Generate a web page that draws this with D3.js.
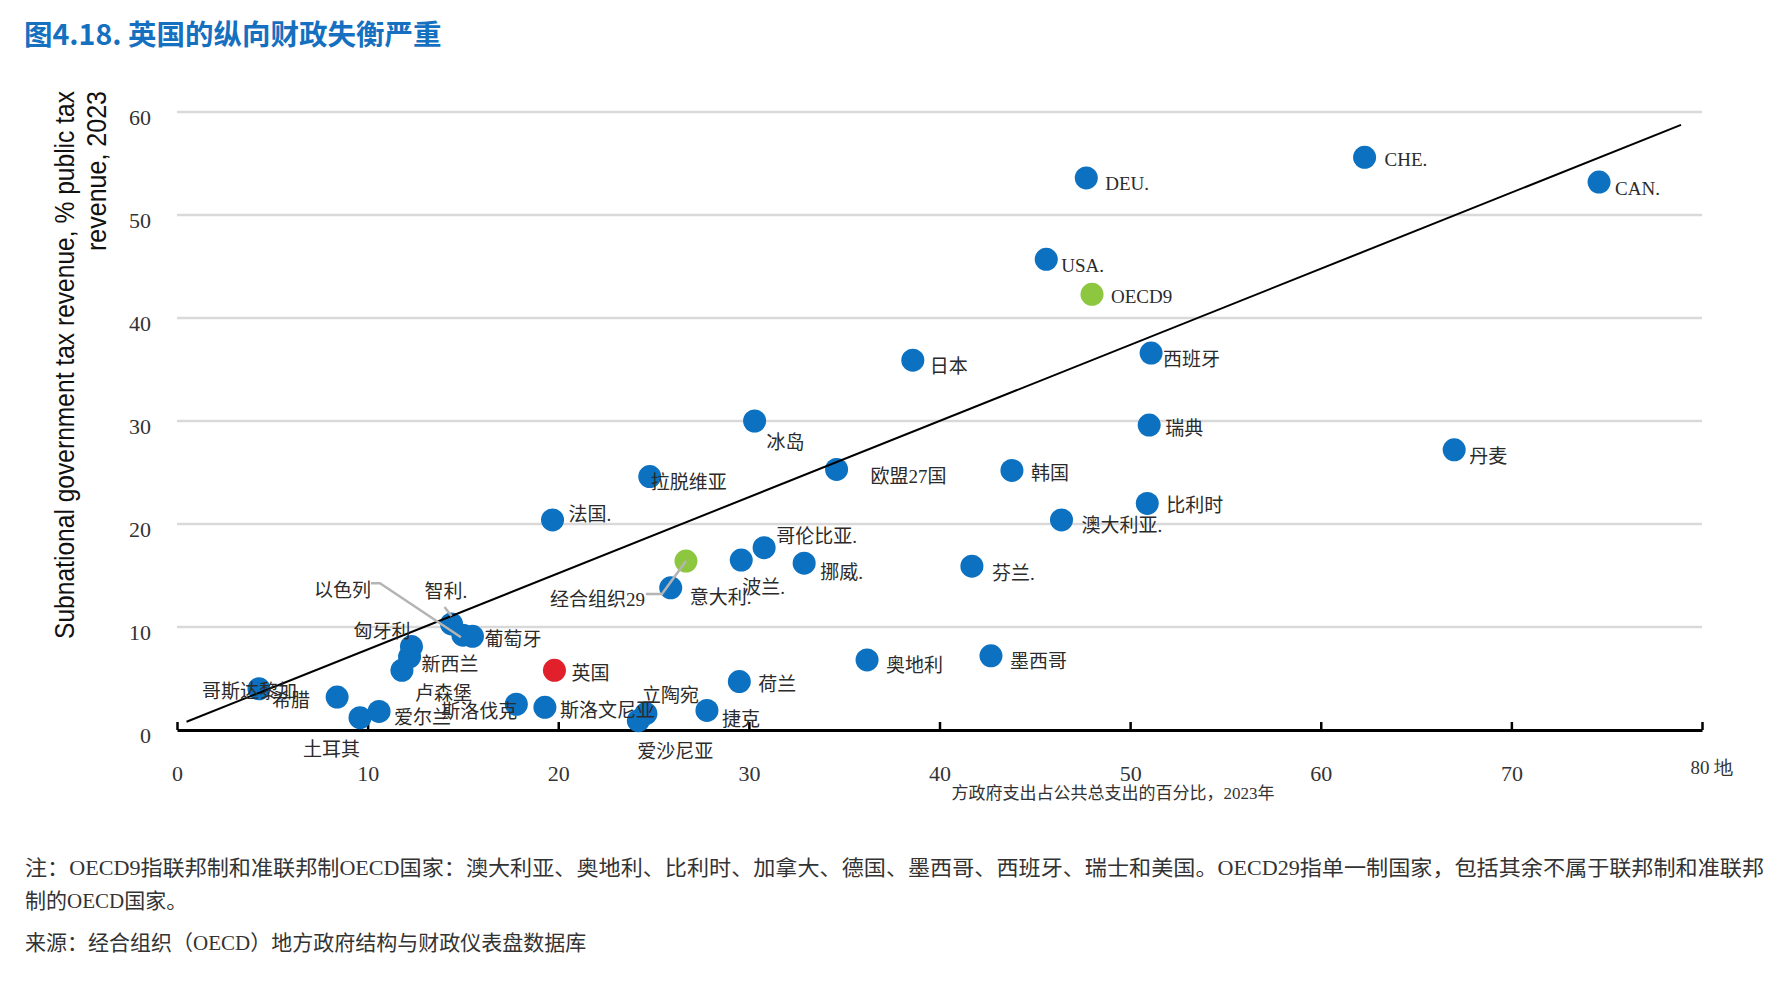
<!DOCTYPE html>
<html>
<head>
<meta charset="utf-8">
<script src="https://cdn.jsdelivr.net/npm/d3@7"></script>
<style>
    body { margin: 0; background: #fff; }
    text { fill: #333; }
</style>
</head>
<body>
<div id="chart"></div>
<script>

// країни / групи
var names = ["CHE.", "CAN.", "DEU.", "USA.", "OECD9", "日本", "西班牙", "瑞典", "丹麦", "冰岛",
    "拉脱维亚", "欧盟27国", "韩国", "比利时", "澳大利亚.", "法国.", "哥伦比亚.", "挪威.", "芬兰.", "波兰.",
    "经合组织29", "意大利.", "智利.", "以色列", "葡萄牙", "匈牙利", "新西兰", "卢森堡", "英国", "哥斯达黎加",
    "希腊", "土耳其", "爱尔兰", "斯洛伐克", "斯洛文尼亚", "立陶宛", "爱沙尼亚", "捷克", "荷兰", "奥地利", "墨西哥"];

// x: subnational spending, % of total public spending
var spendShare = [62.3, 74.6, 47.7, 45.6, 48.0, 38.6, 51.1, 51.0, 67.0, 30.3,
    24.8, 34.6, 43.8, 50.9, 46.4, 19.7, 30.8, 32.9, 41.7, 29.6,
    26.7, 25.9, 14.4, 15.0, 15.5, 12.3, 12.2, 11.8, 19.8, 4.3,
    8.4, 9.6, 10.6, 17.8, 19.3, 24.6, 24.2, 27.8, 29.5, 36.2, 42.7];

// y: subnational tax revenue, % of public tax revenue
var taxShare = [55.6, 53.2, 53.6, 45.7, 42.3, 35.9, 36.6, 29.6, 27.2, 30.0,
    24.6, 25.3, 25.2, 22.0, 20.4, 20.4, 17.7, 16.2, 15.9, 16.5,
    16.4, 13.8, 10.3, 9.2, 9.1, 8.1, 7.1, 5.8, 5.8, 4.0,
    3.2, 1.2, 1.8, 2.5, 2.2, 1.6, 0.9, 1.9, 4.7, 6.8, 7.2];

// "avg" = OECD group averages, "uk" = United Kingdom
var kind = names.map(function (n) {
    if (n === "OECD9" || n === "经合组织29") return "avg";
    if (n === "英国") return "uk";
    return "country";
});

var trendX = [0.5, 78.9];
var trendY = [0.8, 58.75];

var xTicks = [0, 10, 20, 30, 40, 50, 60, 70, 80];
var yTicks = [0, 10, 20, 30, 40, 50, 60];

var titleText = "图4.18. 英国的纵向财政失衡严重";
var yTitleLines = ["Subnational government tax revenue, % public tax", "revenue, 2023"];
var xTitleText = "方政府支出占公共总支出的百分比，2023年";
var noteLines = ["注：OECD9指联邦制和准联邦制OECD国家：澳大利亚、奥地利、比利时、加拿大、德国、墨西哥、西班牙、瑞士和美国。OECD29指单一制国家，包括其余不属于联邦制和准联邦",
    "制的OECD国家。"];
var sourceText = "来源：经合组织（OECD）地方政府结构与财政仪表盘数据库";

// розміщення підписів: [dx, dy, anchor]
var labelPos = {
    "CHE.": [20, 2], "CAN.": [16, 6], "DEU.": [19, 6], "USA.": [15, 6], "OECD9": [19, 2],
    "日本": [17, 6], "西班牙": [12, 6], "瑞典": [16, 3], "丹麦": [15, 7], "冰岛": [12, 21],
    "拉脱维亚": [1, 6], "欧盟27国": [34, 7], "韩国": [19, 3], "比利时": [19, 2], "澳大利亚.": [20, 6],
    "法国.": [16, -5], "哥伦比亚.": [12, -11], "挪威.": [16, 9], "芬兰.": [20, 7], "波兰.": [1, 27],
    "经合组织29": [-41, 38, "end"], "意大利.": [19, 10], "智利.": [-27, -32], "以色列": [-92, -45, "end"],
    "葡萄牙": [12, 3], "匈牙利": [-1, -15, "end"], "新西兰": [12, 8], "卢森堡": [13, 23], "英国": [17, 3],
    "哥斯达黎加": [-57, 3], "希腊": [-27, 3, "end"], "土耳其": [0, 32, "end"], "爱尔兰": [15, 6],
    "斯洛伐克": [1, 7, "end"], "斯洛文尼亚": [15, 3], "立陶宛": [-4, -18], "爱沙尼亚": [-1, 31],
    "捷克": [15, 9], "荷兰": [19, 3], "奥地利": [19, 6], "墨西哥": [19, 6]
};

// лінії-виноски (відносно точки)
var leaders = {
    "经合组织29": [[-40, 33], [-24, 33], [0, 0]],
    "以色列": [[-92, -52], [-83, -52], [-2, 2]],
    "智利.": [[-7, -17], [0, -8]]
};

var colors = {country: "#0b71c0", avg: "#8dc63f", uk: "#e1202b"};

var width = 1790, height = 988;

var xScale = d3.scaleLinear().domain([0, 80]).range([177, 1702]);
var yScale = d3.scaleLinear().domain([0, 60]).range([730, 112]);

var svg = d3.select("#chart")
    .append("svg")
    .attr("width", width)
    .attr("height", height);

// title
svg.append("text")
    .attr("x", 24)
    .attr("y", 45)
    .style("font-family", "'Noto Sans CJK SC', sans-serif")
    .style("font-weight", 700)
    .style("font-size", "28.5px")
    .style("fill", "#1570bf")
    .text(titleText);

// gridlines
svg.append("g")
    .selectAll("line")
    .data(yTicks.filter(function (d) { return d > 0; }))
    .enter()
    .append("line")
    .attr("x1", xScale(0))
    .attr("x2", xScale(80))
    .attr("y1", function (d) { return yScale(d); })
    .attr("y2", function (d) { return yScale(d); })
    .attr("stroke", "#d9d9d9")
    .attr("stroke-width", 2.5);

// y axis
var yAxis = d3.axisLeft(yScale)
    .tickValues(yTicks)
    .tickSize(0)
    .tickPadding(26);

var yAxisG = svg.append("g")
    .attr("transform", "translate(" + xScale(0) + ",0)")
    .call(yAxis);
yAxisG.select("path.domain").remove();
yAxisG.selectAll("text")
    .attr("dy", "0.55em")
    .style("font-family", "'Liberation Serif', serif")
    .style("font-size", "22px")
    .style("fill", "#333");

// x axis
var xAxis = d3.axisBottom(xScale)
    .tickValues(xTicks)
    .tickSizeInner(-8)
    .tickSizeOuter(0)
    .tickPadding(35);

var xAxisG = svg.append("g")
    .attr("transform", "translate(0," + yScale(0) + ")")
    .call(xAxis);
xAxisG.select("path.domain")
    .attr("stroke", "#000")
    .attr("stroke-width", 3);
xAxisG.selectAll(".tick line")
    .attr("stroke", "#000")
    .attr("stroke-width", 2.5);
xAxisG.selectAll("text")
    .style("font-family", "'Liberation Serif', serif")
    .style("font-size", "22px")
    .style("fill", "#333");
xAxisG.selectAll(".tick")
    .filter(function (d) { return d === 80; })
    .select("text")
    .attr("y", 31)
    .style("font-size", "19px")
    .text("80 地")
    .attr("text-anchor", "start")
    .attr("x", -12);

// x title
svg.append("text")
    .attr("x", 1113)
    .attr("y", 793)
    .attr("text-anchor", "middle")
    .attr("dominant-baseline", "central")
    .style("font-family", "'Liberation Serif', 'Noto Sans CJK SC', serif")
    .style("font-size", "17px")
    .text(xTitleText);

// y title
var yTitle = svg.append("text")
    .attr("transform", "translate(0,91) rotate(-90)")
    .attr("text-anchor", "end")
    .style("font-family", "'Liberation Sans', Arial, sans-serif")
    .style("font-size", "27px")
    .style("fill", "#111");

yTitle.selectAll("tspan")
    .data(yTitleLines)
    .enter()
    .append("tspan")
    .attr("x", 0)
    .attr("y", function (d, i) { return i === 0 ? 74 : 106; })
    .text(function (d) { return d; });

yTitle.select("tspan").attr("textLength", 548).attr("lengthAdjust", "spacingAndGlyphs");
yTitle.selectAll("tspan").filter(function (d, i) { return i === 1; })
    .attr("textLength", 160).attr("lengthAdjust", "spacingAndGlyphs");

// points
var points = names.map(function (n, i) {
    return {name: n, x: spendShare[i], y: taxShare[i], kind: kind[i]};
});

svg.append("g")
    .selectAll("circle")
    .data(points)
    .enter()
    .append("circle")
    .attr("cx", function (d) { return xScale(d.x); })
    .attr("cy", function (d) { return yScale(d.y); })
    .attr("r", 11.5)
    .attr("fill", function (d) { return colors[d.kind]; });

// trend line
var line = d3.line()
    .x(function (d) { return xScale(d[0]); })
    .y(function (d) { return yScale(d[1]); });

svg.append("path")
    .attr("d", line(d3.zip(trendX, trendY)))
    .attr("fill", "none")
    .attr("stroke", "#000")
    .attr("stroke-width", 2);

// leaders
var leaderLine = d3.line();
points.filter(function (d) { return leaders[d.name]; }).forEach(function (d) {
    var cx = xScale(d.x), cy = yScale(d.y);
    svg.append("path")
        .attr("d", leaderLine(leaders[d.name].map(function (p) { return [cx + p[0], cy + p[1]]; })))
        .attr("fill", "none")
        .attr("stroke", "#b5b5b5")
        .attr("stroke-width", 2.5);
});

// labels
svg.append("g")
    .selectAll("text")
    .data(points)
    .enter()
    .append("text")
    .attr("x", function (d) { return xScale(d.x) + labelPos[d.name][0]; })
    .attr("y", function (d) { return yScale(d.y) + labelPos[d.name][1]; })
    .attr("text-anchor", function (d) { return labelPos[d.name][2] || "start"; })
    .attr("dominant-baseline", "central")
    .style("font-family", "'Liberation Serif', 'Noto Sans CJK SC', serif")
    .style("font-size", "19px")
    .style("fill", "#2b2b2b")
    .text(function (d) { return d.name; });

// notes
var notes = svg.append("g")
    .style("font-family", "'Liberation Serif', 'Noto Sans CJK SC', serif")
    .style("font-size", "21px");

notes.selectAll("text.note")
    .data(noteLines)
    .enter()
    .append("text")
    .attr("class", "note")
    .attr("x", 25)
    .attr("y", function (d, i) { return 868 + i * 33; })
    .attr("dominant-baseline", "central")
    .attr("textLength", function (d, i) { return i === 0 ? 1739 : null; })
    .attr("lengthAdjust", "spacingAndGlyphs")
    .text(function (d) { return d; });

notes.append("text")
    .attr("x", 25)
    .attr("y", 943)
    .attr("dominant-baseline", "central")
    .text(sourceText);

</script>
</body>
</html>
